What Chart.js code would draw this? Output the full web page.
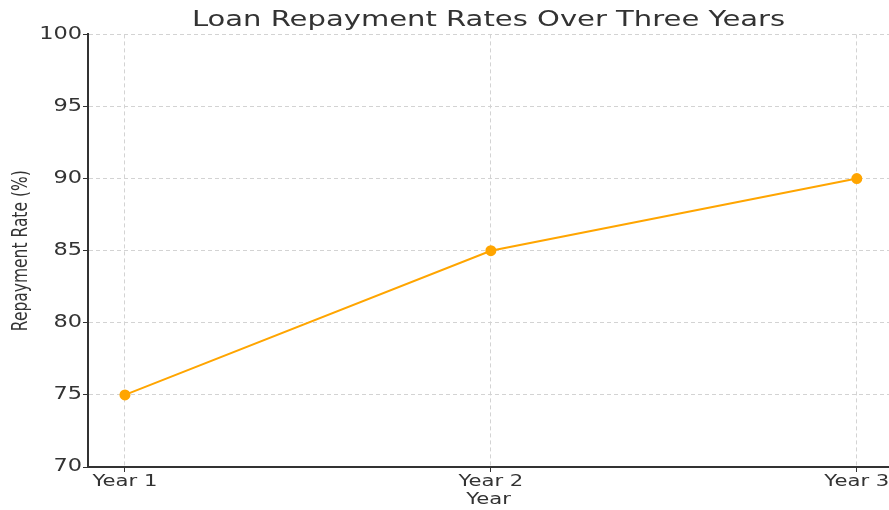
<!DOCTYPE html>
<html>
<head>
<meta charset="utf-8">
<script src="https://cdn.jsdelivr.net/npm/chart.js@4.4.0/dist/chart.umd.min.js"></script>
<style>
  html, body { margin: 0; padding: 0; background: #fff; }
  #wrap { width: 889px; height: 510px; }
</style>
</head>
<body>
<div id="wrap"><canvas id="repaymentChart"></canvas></div>
<script>
// data
const years = ['Year 1', 'Year 2', 'Year 3'];
const repaymentRates = [75, 85, 90];
const yTicks = [70, 75, 80, 85, 90, 95, 100];

const ink = '#333333';
const gridGrey = '#d3d3d3';
const stretchX = 1.32;  // the reference text is stretched sideways

const points = repaymentRates.map((v, i) => ({ x: i, y: v }));

// stretch every label along the screen x direction, around its anchor
const wideText = {
  id: 'wideText',
  beforeInit(chart) {
    const c = chart.ctx;
    const origFill = c.fillText;
    c.fillText = function (text, x, y) {
      const m = this.getTransform();
      const px = m.a * x + m.c * y + m.e;
      const py = m.b * x + m.d * y + m.f;
      this.save();
      const s = new DOMMatrix().translate(px, py).scale(stretchX, 1).translate(-px, -py).multiply(m);
      this.setTransform(s);
      origFill.call(this, text, x, y);
      this.restore();
    };
  }
};

const ctx = document.getElementById('repaymentChart').getContext('2d');

new Chart(ctx, {
  type: 'line',
  data: {
    datasets: [{
      label: 'Repayment Rate',
      data: points,
      borderColor: '#FFA500',
      backgroundColor: '#FFA500',
      borderWidth: 2,
      pointRadius: 4.5,
      pointHoverRadius: 4.5,
      tension: 0,
      clip: false
    }]
  },
  options: {
    responsive: true,
    maintainAspectRatio: false,
    animation: false,
    layout: { padding: 0, autoPadding: false },
    plugins: {
      legend: { display: false },
      tooltip: { enabled: false },
      title: {
        display: true,
        fullSize: false,
        text: 'Loan Repayment Rates Over Three Years',
        color: ink,
        font: { family: 'DejaVu Sans', size: 22, weight: 'normal' },
        padding: { top: 7, bottom: 1 }
      }
    },
    scales: {
      x: {
        type: 'linear',
        min: -0.101,
        max: 2.088,
        afterBuildTicks: (scale) => {
          scale.ticks = years.map((_, i) => ({ value: i }));
        },
        afterFit: (scale) => {
          scale.height = 43;
          scale.paddingLeft = 0;
          scale.paddingRight = 0;
        },
        ticks: {
          callback: (v) => years[v],
          color: ink,
          font: { family: 'DejaVu Sans', size: 16 },
          padding: 0,
          maxRotation: 0,
          autoSkip: false
        },
        grid: {
          color: gridGrey,
          lineWidth: 1,
          tickColor: ink,
          tickLength: 5,
          tickBorderDash: []
        },
        border: { display: true, color: ink, width: 2, dash: [4, 3] },
        title: {
          display: true,
          text: 'Year',
          color: ink,
          font: { family: 'DejaVu Sans', size: 16 },
          padding: { top: 0, bottom: 1 }
        }
      },
      y: {
        min: 70,
        max: 100,
        afterBuildTicks: (scale) => {
          scale.ticks = yTicks.map((v) => ({ value: v }));
        },
        afterFit: (scale) => {
          scale.width = 88;
          scale.paddingTop = 0;
          scale.paddingBottom = 0;
        },
        ticks: {
          color: ink,
          font: { family: 'DejaVu Sans', size: 17 },
          padding: 1
        },
        grid: {
          color: gridGrey,
          lineWidth: 1,
          tickColor: ink,
          tickLength: 5,
          tickBorderDash: []
        },
        border: { display: true, color: ink, width: 2, dash: [4, 3] },
        title: {
          display: true,
          text: 'Repayment Rate (%)',
          color: ink,
          font: { family: 'DejaVu Sans', size: 15.5 },
          padding: { top: 12, bottom: 0 }
        }
      }
    }
  },
  plugins: [wideText]
});
</script>
</body>
</html>
